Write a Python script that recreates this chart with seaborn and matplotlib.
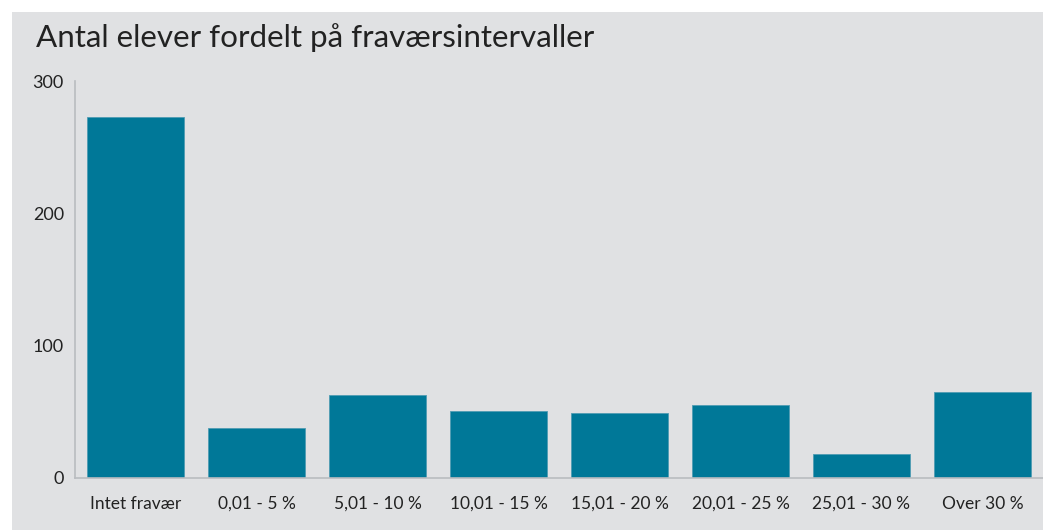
import matplotlib
matplotlib.use("Agg")
import matplotlib.pyplot as plt
import seaborn as sns
import pandas as pd

# Data
intervals = ["Intet fravær", "0,01 - 5 %", "5,01 - 10 %", "10,01 - 15 %",
             "15,01 - 20 %", "20,01 - 25 %", "25,01 - 30 %", "Over 30 %"]
students = [273, 38, 63, 51, 49, 55, 18, 65]
yticks = [0, 100, 200, 300]

df = pd.DataFrame({"Interval": intervals, "Elever": students})

sns.set_theme(style="white")
plt.rcParams['font.family'] = ['Lato', 'DejaVu Sans']

bg = "#e0e1e3"
axis_col = "#b9bcc0"

fig = plt.figure(figsize=(10.43, 5.30), dpi=100)
fig.patch.set_facecolor("white")
# grey panel behind chart
panel = plt.Rectangle((12 / 1043, 0), 1, 1 - 12 / 530,
                      transform=fig.transFigure, facecolor=bg,
                      edgecolor="none", zorder=-10)
fig.add_artist(panel)

ax = fig.add_axes([75 / 1043, 1 - 478 / 530, 1 - 75 / 1043, (478 - 81) / 530])
ax.set_facecolor("none")
ax.set_zorder(5)

sns.barplot(data=df, x="Interval", y="Elever", color="#007898", width=0.8,
            saturation=1, edgecolor="#4f9cb3", linewidth=0.6, ax=ax)

ax.set_xlim(-0.5, len(intervals) - 0.5)
ax.set_ylim(0, 300)
ax.set_yticks(yticks)
ax.set_xlabel("")
ax.set_ylabel("")

for s in ["top", "right"]:
    ax.spines[s].set_visible(False)
for s in ["left", "bottom"]:
    ax.spines[s].set_color(axis_col)
    ax.spines[s].set_linewidth(1.2)

ax.tick_params(axis="both", colors=axis_col, length=6, width=1.2,
               labelcolor="#222222")
ax.tick_params(axis="x", labelsize=12.5, pad=7)
ax.tick_params(axis="y", labelsize=13, pad=2)

fig.text(36 / 1043, 1 - 38 / 530, "Antal elever fordelt på fraværsintervaller",
         fontsize=22.6, color="#222222", va="center", ha="left", zorder=6)

plt.savefig("out.png", dpi=100)
